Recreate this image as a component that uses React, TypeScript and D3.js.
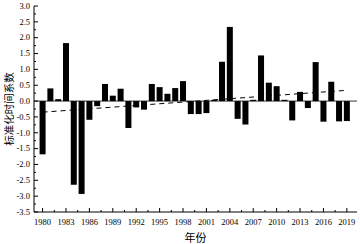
import React from "react";
import * as d3 from "d3";

const years: number[] = d3.range(1980, 2020);
const values: number[] = [
  -1.68, 0.40, 0.06, 1.83, -2.64, -2.93, -0.59, -0.16, 0.54, 0.17,
  0.39, -0.85, -0.20, -0.27, 0.54, 0.44, 0.23, 0.41, 0.63, -0.41,
  -0.41, -0.38, 0.04, 1.24, 2.34, -0.56, -0.74, 0.04, 1.44, 0.58,
  0.47, 0.04, -0.61, 0.29, -0.22, 1.23, -0.65, 0.61, -0.64, -0.63,
];
const trendYears: number[] = [1980, 2019];
const trendValues: number[] = [-0.35, 0.34];
const xTickYears: number[] = [1980, 1983, 1986, 1989, 1992, 1995, 1998, 2001, 2004, 2007, 2010, 2013, 2016, 2019];
const yTickValues: number[] = d3.range(-3.5, 3.01, 0.5);
const yTitle = "标准化时间系数";
const xTitle = "年份";

const W = 360;
const H = 244;
const left = 34;
const right = 357;
const top = 6;
const bottom = 212;

export default function App() {
  const x = d3.scaleLinear().domain([1978.9, 2020.3]).range([left, right]);
  const y = d3.scaleLinear().domain([-3.5, 3.0]).range([bottom, top]);
  const barW = 6;
  const serif = "'Times New Roman', 'Liberation Serif', serif";
  const cjk = "'Noto Sans CJK SC', sans-serif";
  const yMinor = d3.range(-3.5, 3.01, 0.25);
  const xMinor = d3.range(1980, 2020.5, 1.5);
  const trendLine = d3.line<number>()
    .x((_, i) => x(trendYears[i]))
    .y((d) => y(d));

  return (
    <svg width={W} height={H} style={{ position: "absolute", left: 0, top: 0, background: "#fff" }}>
      <rect width={W} height={H} fill="#fff" />
      <line x1={left} x2={right} y1={y(0)} y2={y(0)} stroke="#000" strokeWidth={0.8} />
      <path d={trendLine(trendValues) || ""} fill="none" stroke="#000" strokeWidth={1} strokeDasharray="5,4" />
      {years.map((yr, i) => (
        <rect
          key={yr}
          x={x(yr) - barW / 2}
          y={Math.min(y(0), y(values[i]))}
          width={barW}
          height={Math.abs(y(values[i]) - y(0))}
          fill="#000"
        />
      ))}
      <line x1={left} x2={left} y1={top} y2={bottom} stroke="#000" strokeWidth={1} />
      {yMinor.map((v) => {
        const major = Math.abs(v * 2 - Math.round(v * 2)) < 1e-6;
        return (
          <line key={"ym" + v} x1={left} x2={left + (major ? 4 : 2)} y1={y(v)} y2={y(v)} stroke="#000" strokeWidth={1} />
        );
      })}
      {yTickValues.map((v) => (
        <text key={"yl" + v} x={30} y={y(v)} dy="0.33em" textAnchor="end" fontFamily={serif} fontSize={8.5} fill="#000">
          {v.toFixed(1).replace("-0.0", "0.0")}
        </text>
      ))}
      <line x1={left} x2={right} y1={bottom} y2={bottom} stroke="#000" strokeWidth={1} />
      {xMinor.map((v) => {
        const major = xTickYears.includes(v);
        return (
          <line key={"xm" + v} x1={x(v)} x2={x(v)} y1={bottom} y2={bottom - (major ? 4 : 2)} stroke="#000" strokeWidth={1} />
        );
      })}
      {xTickYears.map((v) => (
        <text key={"xl" + v} x={x(v)} y={224.7} textAnchor="middle" fontFamily={serif} fontSize={8.5} fill="#000">
          {v}
        </text>
      ))}
      <text
        transform={`translate(${9},${(top + bottom) / 2}) rotate(-90)`}
        textAnchor="middle"
        dy="0.35em"
        fontFamily={cjk}
        fontSize={10.5}
        fill="#000"
      >
        {yTitle}
      </text>
      <text x={(left + right) / 2} y={242} textAnchor="middle" fontFamily={cjk} fontSize={11} fill="#000">
        {xTitle}
      </text>
    </svg>
  );
}
